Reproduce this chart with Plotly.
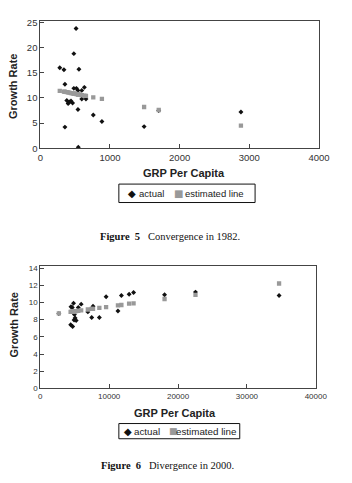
import plotly.graph_objects as go

# ---------- Figure 5: Convergence in 1982 ----------
grp_1982 = [279, 339, 353, 353, 380, 399, 417, 440, 463, 481, 481, 513, 518, 540, 540,
            545, 554, 595, 595, 632, 655, 760, 884, 1490, 1700, 2880]
actual_1982 = [16.0, 15.6, 12.7, 4.2, 9.5, 8.9, 9.2, 9.4, 9.0, 18.8, 11.9, 23.8, 11.9, 11.5, 7.7,
               0.2, 15.7, 11.5, 9.8, 12.1, 9.8, 6.6, 5.3, 4.3, 7.5, 7.2]
est_1982 = [11.4, 11.25, 11.2, 11.2, 11.15, 11.1, 11.05, 10.95, 10.9, 10.85, 10.85, 10.8, 10.75,
            10.7, 10.7, 10.7, 10.65, 10.55, 10.55, 10.45, 10.4, 10.1, 9.8, 8.2, 7.6, 4.5]

# ---------- Figure 6: Divergence in 2000 ----------
grp_2000 = [2690, 4410, 4450, 4640, 4690, 4820, 4900, 4950, 5050, 5200, 5510, 5930, 6900, 7460,
            7650, 8570, 9550, 11270, 11770, 12890, 13540, 18040, 22530, 34670]
actual_2000 = [8.7, 7.4, 9.5, 9.4, 7.2, 9.9, 7.95, 8.6, 8.2, 7.9, 9.4, 9.8, 8.9, 8.25,
               9.55, 8.25, 10.65, 9.0, 10.8, 10.95, 11.15, 10.9, 11.2, 10.8]
est_2000 = [8.72, 8.9, 8.9, 8.93, 8.94, 8.95, 8.96, 8.97, 8.98, 8.99, 9.03, 9.07, 9.18, 9.24,
            9.26, 9.36, 9.45, 9.65, 9.7, 9.85, 9.9, 10.4, 10.87, 12.2]

x1_ticks = [0, 1000, 2000, 3000, 4000]
y1_ticks = [0, 5, 10, 15, 20, 25]
x2_ticks = [0, 10000, 20000, 30000, 40000]
y2_ticks = [0, 2, 4, 6, 8, 10, 12, 14]

series_names = ["actual", "estimated line"]

W, H = 352, 483
def px(v): return v / W
def py(v): return 1 - v / H

SANS = "Liberation Sans, Arial, sans-serif"
SERIF = "Liberation Serif, Times New Roman, serif"
BLACK = "#111111"
GRAY = "#999999"

fig = go.Figure()
for xs, ys_a, ys_e, xa, ya in [(grp_1982, actual_1982, est_1982, "x", "y"),
                               (grp_2000, actual_2000, est_2000, "x2", "y2")]:
    fig.add_trace(go.Scatter(x=xs, y=ys_a, mode="markers", name=series_names[0], showlegend=False,
                             marker=dict(symbol="diamond", size=3.8, color=BLACK, line=dict(width=0)),
                             xaxis=xa, yaxis=ya))
    fig.add_trace(go.Scatter(x=xs, y=ys_e, mode="markers", name=series_names[1], showlegend=False,
                             marker=dict(symbol="square", size=4.3, color=GRAY, line=dict(width=0)),
                             xaxis=xa, yaxis=ya))

axis_common = dict(showgrid=False, zeroline=False, showline=True, linecolor="#444444",
                   linewidth=1, mirror=True, ticks="inside", ticklen=4, tickcolor="#444444")

fig.update_layout(
    width=W, height=H, autosize=False,
    margin=dict(l=0, r=0, t=0, b=0),
    paper_bgcolor="white", plot_bgcolor="white",
    showlegend=False,
    xaxis=dict(domain=[px(39), px(330)], range=[0, 4000], tickvals=x1_ticks, tickformat="d",
               tickfont=dict(family=SANS, size=9.5, color="#333"), anchor="y", **axis_common),
    yaxis=dict(domain=[py(147), py(17.5)], range=[0, 25.25], tickvals=y1_ticks,
               tickfont=dict(family=SANS, size=9.5, color="#333"), anchor="x", **axis_common),
    xaxis2=dict(domain=[px(39), px(326.7)], range=[0, 40000], tickvals=x2_ticks, tickformat="d",
                tickfont=dict(family=SANS, size=8, color="#333"), anchor="y2", **axis_common),
    yaxis2=dict(domain=[py(391.7), py(267.3)], range=[0, 14.2], tickvals=y2_ticks,
                tickfont=dict(family=SANS, size=8, color="#333"), anchor="x2", **axis_common),
)

shapes = [
    dict(type="rect", xref="paper", yref="paper", x0=px(121), x1=px(263.3), y0=py(202.3), y1=py(183.5),
         line=dict(color="#111", width=1), fillcolor="white"),
    dict(type="rect", xref="paper", yref="paper", x0=px(121), x1=px(247.3), y0=py(443), y1=py(427.5),
         line=dict(color="#111", width=1), fillcolor="white"),
]
fig.update_layout(shapes=shapes)

ann = [
    dict(text="<b>GRP Per Capita</b>", x=px(189), y=py(172), xanchor="center", font=dict(family=SANS, size=11, color="#222")),
    dict(text="<b>Growth Rate</b>", x=px(11), y=py(84), xanchor="center", textangle=-90, font=dict(family=SANS, size=11, color="#222")),
    dict(text="<b>GRP Per Capita</b>", x=px(180), y=py(416.7), xanchor="center", font=dict(family=SANS, size=11, color="#222")),
    dict(text="<b>Growth Rate</b>", x=px(11), y=py(327), xanchor="center", textangle=-90, font=dict(family=SANS, size=11, color="#222")),
    dict(text="<b>Figure\u00a0\u00a05</b>\u00a0\u00a0\u00a0Convergence in 1982.", x=px(174), y=py(237), xanchor="center",
         font=dict(family=SERIF, size=10.5, color="#111")),
    dict(text="<b>Figure\u00a0\u00a06</b>\u00a0\u00a0\u00a0Divergence in 2000.", x=px(172), y=py(470.3), xanchor="center",
         font=dict(family=SERIF, size=10.5, color="#111")),
    # legend 1
    dict(text="\u25c6", x=px(128.5), y=py(193.3), xanchor="left", font=dict(family="DejaVu Sans", size=10, color=BLACK)),
    dict(text=series_names[0], x=px(140), y=py(193.6), xanchor="left", font=dict(family=SANS, size=9.5, color="#222")),
    dict(text="\u25a0", x=px(176.5), y=py(193.3), xanchor="left", font=dict(family="DejaVu Sans", size=10, color=GRAY)),
    dict(text=series_names[1], x=px(188.5), y=py(193.6), xanchor="left", font=dict(family=SANS, size=9.5, color="#222")),
    # legend 2
    dict(text="\u25c6", x=px(124.5), y=py(435.5), xanchor="left", font=dict(family="DejaVu Sans", size=10, color=BLACK)),
    dict(text=series_names[0], x=px(134.5), y=py(435.8), xanchor="left", font=dict(family=SANS, size=9.8, color="#222")),
    dict(text="\u25a0", x=px(171.5), y=py(435.5), xanchor="left", font=dict(family="DejaVu Sans", size=9, color=GRAY)),
    dict(text=series_names[1], x=px(178.5), y=py(435.8), xanchor="left", font=dict(family=SANS, size=9.8, color="#222")),
]
for a in ann:
    a.update(xref="paper", yref="paper", showarrow=False, yanchor="middle")
fig.update_layout(annotations=ann)

fig.write_html("out.html")
